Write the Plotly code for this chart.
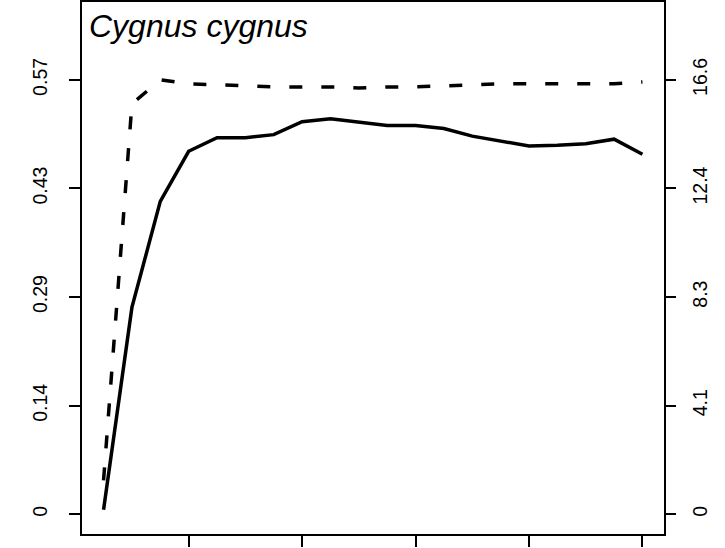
import plotly.graph_objects as go

# x positions (index of the step) and the two series
steps = list(range(1, 21))

# solid line, left axis
solid_vals = [0.006, 0.273, 0.413, 0.479, 0.497, 0.497, 0.501, 0.518, 0.522, 0.517,
              0.513, 0.513, 0.509, 0.499, 0.493, 0.486, 0.487, 0.489, 0.495, 0.475]

# dashed line, right axis
dashed_vals = [1.30, 15.68, 16.60, 16.45, 16.41, 16.37, 16.33, 16.33, 16.33, 16.29,
               16.33, 16.33, 16.37, 16.41, 16.45, 16.45, 16.45, 16.45, 16.45, 16.52]

left_ticks = [0, 0.1433, 0.2867, 0.43, 0.5733]
left_labels = ["0", "0.14", "0.29", "0.43", "0.57"]
right_ticks = [0, 4.15, 8.3, 12.45, 16.6]
right_labels = ["0", "4.1", "8.3", "12.4", "16.6"]
x_ticks = [4, 8, 12, 16, 20]

species = "Cygnus cygnus"

FONT = "Liberation Sans, Arial, sans-serif"

fig = go.Figure()
fig.add_trace(go.Scatter(
    x=steps, y=solid_vals, mode="lines",
    line=dict(color="black", width=3.5),
    showlegend=False,
))
fig.add_trace(go.Scatter(
    x=steps, y=dashed_vals, mode="lines", yaxis="y2",
    line=dict(color="black", width=3.5, dash="13px,19px"),
    showlegend=False,
))

axis_common = dict(
    showgrid=False, zeroline=False, ticks="outside", ticklen=11,
    tickwidth=1.5, tickcolor="black", automargin=False,
    tickfont=dict(family=FONT, size=19.5, color="black"),
)

fig.update_layout(
    width=725, height=548,
    margin=dict(l=82, r=61, t=2, b=14),
    paper_bgcolor="white", plot_bgcolor="white",
    xaxis=dict(
        range=[0.24, 20.76], tickvals=x_ticks, showticklabels=False,
        showline=True, linecolor="black", linewidth=2, mirror=True,
        **axis_common,
    ),
    yaxis=dict(
        range=[-0.026, 0.676], tickvals=left_ticks, ticktext=left_labels,
        tickangle=-90, showline=True, linecolor="black", linewidth=2, mirror=True,
        ticklabelstandoff=14,
        **axis_common,
    ),
    yaxis2=dict(
        range=[-0.753, 19.574], tickvals=right_ticks, ticktext=right_labels,
        tickangle=-90, overlaying="y", side="right",
        showline=False, ticklabelstandoff=8,
        **axis_common,
    ),
    annotations=[dict(
        text=f"<i>{species}</i>", xref="paper", yref="paper",
        x=0, y=1, xanchor="left", yanchor="top", xshift=5, yshift=-4,
        showarrow=False, font=dict(family=FONT, size=32, color="black"),
    )],
)

# page body has a default 8px margin; drop it so the figure sits at the corner
fig.write_html(
    "out.html",
    config={"displayModeBar": False},
    post_script="document.body.style.margin = '0';",
)
